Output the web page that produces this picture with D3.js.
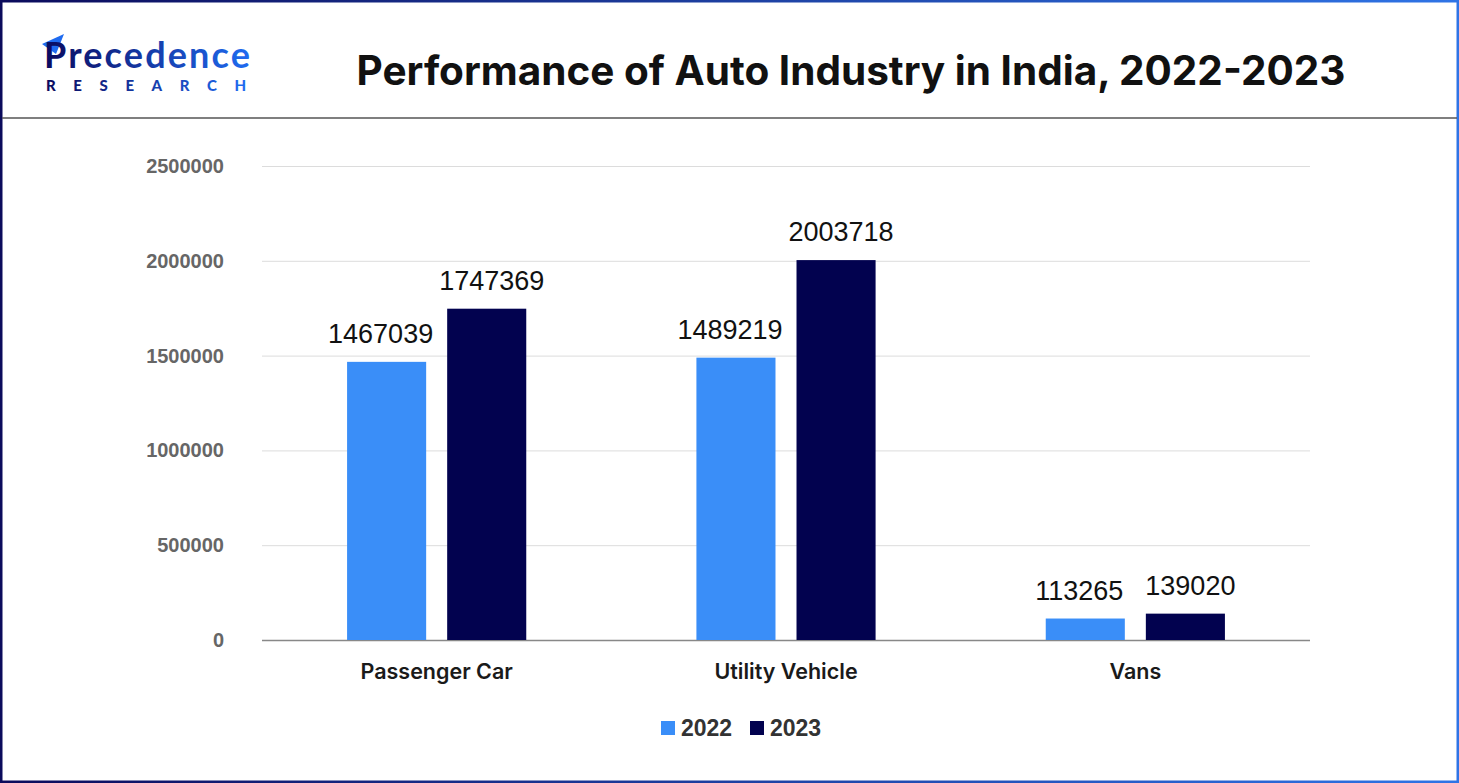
<!DOCTYPE html>
<html>
<head>
<meta charset="utf-8">
<script src="https://cdn.jsdelivr.net/npm/d3@7"></script>
<style>
  body { margin: 0; background: #fff; }
  svg { display: block; }
</style>
</head>
<body>
<div class="container"></div>
<script>
// DATA
const categories = ["Passenger Car", "Utility Vehicle", "Vans"];
const seriesKeys = ["2022", "2023"];
const values2022 = [1467039, 1489219, 113265];
const values2023 = [1747369, 2003718, 139020];
const yTicks = [0, 500000, 1000000, 1500000, 2000000, 2500000];
const colors = ["#3a8ef8", "#02024f"];

const W = 1459, H = 783;
const margin = { top: 166, right: 149, bottom: 143, left: 262 };
const width = W - margin.left - margin.right,
    height = H - margin.top - margin.bottom;

const svg = d3.select(".container")
    .append("svg")
    .attr("width", W)
    .attr("height", H);

// frame with gradient border
const defs = svg.append("defs");
const grad = defs.append("linearGradient").attr("id", "frame").attr("x1", "0").attr("x2", "1");
grad.append("stop").attr("offset", "0").attr("stop-color", "#0b0b5c");
grad.append("stop").attr("offset", "1").attr("stop-color", "#2f74e6");
const logoGrad = defs.append("linearGradient").attr("id", "logo").attr("x1", "0").attr("x2", "1");
logoGrad.append("stop").attr("offset", "0").attr("stop-color", "#0a0a5e");
logoGrad.append("stop").attr("offset", "1").attr("stop-color", "#1f6bf0");

svg.append("rect")
    .attr("x", 1.25).attr("y", 1.25)
    .attr("width", W - 2.5).attr("height", H - 2.5)
    .attr("fill", "#fff")
    .attr("stroke", "url(#frame)")
    .attr("stroke-width", 2.5);

// header separator
svg.append("line")
    .attr("x1", 2).attr("x2", W - 2)
    .attr("y1", 118).attr("y2", 118)
    .attr("stroke", "#555")
    .attr("stroke-width", 1.5);

// LOGO
const logo = svg.append("g").attr("transform", "translate(42, 0)");
logo.append("path")
    .attr("d", "M0,44 L22,34 L14,54 Z")
    .attr("fill", "#1f6bf0");
logo.append("text")
    .attr("x", 2).attr("y", 68)
    .attr("font-family", "Lato, 'Noto Sans', sans-serif")
    .attr("font-size", 36)
    .attr("font-weight", 700)
    .attr("fill", "url(#logo)")
    .attr("textLength", 206)
    .text("Precedence");
logo.append("text")
    .attr("x", 4).attr("y", 91)
    .attr("font-family", "Lato, 'Noto Sans', sans-serif")
    .attr("font-size", 15)
    .attr("font-weight", 900)
    .attr("fill", "url(#logo)")
    .attr("textLength", 200)
    .text("RESEARCH");

// TITLE
svg.append("text")
    .attr("x", 851).attr("y", 85)
    .attr("text-anchor", "middle")
    .attr("font-family", "Inter, Roboto, sans-serif")
    .attr("font-size", 40.5)
    .attr("font-weight", 700)
    .attr("fill", "#111")
    .text("Performance of Auto Industry in India, 2022-2023");

const chart = svg.append("g")
    .attr("transform", `translate(${margin.left}, ${margin.top})`);

// SCALES
const yScale = d3.scaleLinear()
    .domain([0, 2500000])
    .range([height, 0]);

const xScale = d3.scaleBand()
    .domain(categories)
    .range([0, width]);

const xSub = d3.scaleBand()
    .domain(seriesKeys)
    .range([0, xScale.bandwidth()])
    .paddingInner(0.21)
    .paddingOuter(0.85);

// GRID LINES + Y AXIS
const yAxis = d3.axisLeft(yScale)
    .tickValues(yTicks)
    .tickSize(-width)
    .tickPadding(38)
    .tickFormat(d3.format("d"));

const yG = chart.append("g").attr("class", "axis").call(yAxis);
yG.select(".domain").remove();
yG.selectAll(".tick line")
    .attr("stroke", d => d === 0 ? "#888" : "#dcdcdc")
    .attr("stroke-width", d => d === 0 ? 1.5 : 1);
yG.selectAll(".tick text")
    .attr("font-family", "'Liberation Sans', Arial, sans-serif")
    .attr("font-size", 20)
    .attr("font-weight", 700)
    .attr("fill", "#666");

// X AXIS
const xAxis = d3.axisBottom(xScale).tickSize(0).tickPadding(24);
const xG = chart.append("g")
    .attr("transform", `translate(0, ${height})`)
    .call(xAxis);
xG.select(".domain").remove();
xG.selectAll(".tick text")
    .attr("font-family", "Inter, Roboto, sans-serif")
    .attr("font-size", 21.5)
    .attr("font-weight", 600)
    .attr("fill", "#1a1a1a");

// BARS
const rows = categories.map((c, i) => ({
    category: c,
    values: [
        { key: "2022", value: values2022[i] },
        { key: "2023", value: values2023[i] }
    ]
}));

const groups = chart.selectAll("g.group")
    .data(rows)
    .enter()
    .append("g")
    .attr("class", "group")
    .attr("transform", d => `translate(${xScale(d.category)}, 0)`);

groups.selectAll("rect")
    .data(d => d.values)
    .enter()
    .append("rect")
    .attr("x", d => xSub(d.key))
    .attr("width", xSub.bandwidth())
    .attr("y", d => yScale(d.value))
    .attr("height", d => height - yScale(d.value))
    .attr("fill", (d, i) => colors[i]);

// value labels, nudged a little apart like the original
groups.selectAll("text.value")
    .data(d => d.values)
    .enter()
    .append("text")
    .attr("class", "value")
    .attr("x", (d, i) => xSub(d.key) + xSub.bandwidth() / 2 + (i === 0 ? -6 : 5))
    .attr("y", d => yScale(d.value) - 19)
    .attr("text-anchor", "middle")
    .attr("font-family", "'Liberation Sans', Arial, sans-serif")
    .attr("font-size", 27)
    .attr("fill", "#111")
    .text(d => d.value);

// LEGEND
const legend = svg.append("g").attr("transform", "translate(661, 721)");
const items = legend.selectAll("g")
    .data(seriesKeys)
    .enter()
    .append("g")
    .attr("transform", (d, i) => `translate(${i * 89}, 0)`);
items.append("rect")
    .attr("width", 14).attr("height", 14)
    .attr("fill", (d, i) => colors[i]);
items.append("text")
    .attr("x", 20).attr("y", 15)
    .attr("font-family", "'Liberation Sans', Arial, sans-serif")
    .attr("font-size", 23)
    .attr("font-weight", 700)
    .attr("fill", "#333")
    .text(d => d);
</script>
</body>
</html>
